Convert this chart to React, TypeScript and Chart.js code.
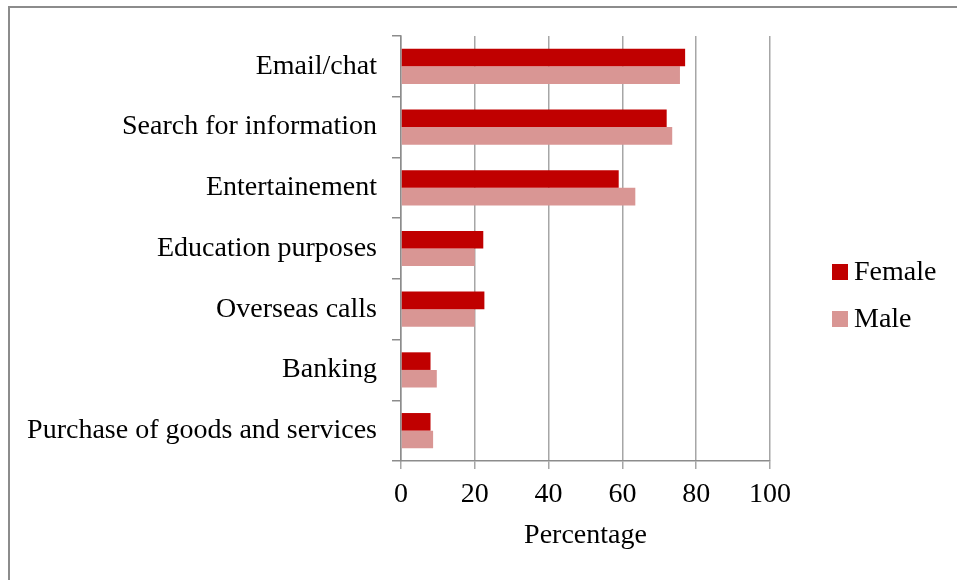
import React, { useEffect, useRef } from "react";
import { Chart, registerables } from "chart.js";

Chart.register(...registerables);

const categories = [
  "Email/chat",
  "Search for information",
  "Entertainement",
  "Education purposes",
  "Overseas calls",
  "Banking",
  "Purchase of goods and services",
];
const femaleValues = [77, 72, 59, 22.3, 22.6, 8, 8];
const maleValues = [75.6, 73.5, 63.5, 20, 20, 9.7, 8.7];
const seriesNames = ["Female", "Male"];
const seriesColors = ["#C00000", "#D99694"];
const xTicks = [0, 20, 40, 60, 80, 100];

const FONT = "'Liberation Serif', 'Times New Roman', serif";

const legendPlugin = {
  id: "customLegend",
  afterDraw(chart: any) {
    const ctx = chart.ctx;
    ctx.save();
    ctx.font = `28px ${FONT}`;
    ctx.textBaseline = "middle";
    ctx.textAlign = "left";
    chart.data.datasets.forEach((ds: any, i: number) => {
      const cy = 272 + i * 47;
      ctx.fillStyle = ds.backgroundColor;
      ctx.fillRect(832, cy - 8, 16, 16);
      ctx.fillStyle = "#000";
      ctx.fillText(ds.label, 854, cy + 1);
    });
    ctx.restore();
  },
};

export default function App() {
  const ref = useRef<HTMLCanvasElement | null>(null);
  useEffect(() => {
    if (!ref.current) return;
    const chart = new Chart(ref.current, {
      type: "bar",
      data: {
        labels: categories,
        datasets: [
          {
            label: seriesNames[0],
            data: femaleValues,
            backgroundColor: seriesColors[0],
            categoryPercentage: 0.58,
            barPercentage: 1.0,
          },
          {
            label: seriesNames[1],
            data: maleValues,
            backgroundColor: seriesColors[1],
            categoryPercentage: 0.58,
            barPercentage: 1.0,
          },
        ],
      },
      options: {
        indexAxis: "y",
        animation: false,
        responsive: false,
        maintainAspectRatio: false,
        layout: { padding: { left: 8, right: 187, top: 36, bottom: 24 } },
        plugins: {
          legend: { display: false },
          tooltip: { enabled: false },
        },
        scales: {
          x: {
            min: 0,
            max: 100,
            afterBuildTicks: (scale: any) => {
              scale.ticks = xTicks.map((v) => ({ value: v }));
            },
            afterFit: (scale: any) => {
              scale.height = 95;
            },
            ticks: {
              color: "#000",
              font: { family: FONT, size: 28 },
              padding: 9,
              maxRotation: 0,
            },
            grid: {
              color: "#A6A6A6",
              lineWidth: 1.5,
              tickLength: 8,
              drawTicks: true,
            },
            border: { color: "#8C8C8C", width: 1.5 },
            title: {
              display: true,
              text: "Percentage",
              color: "#000",
              font: { family: FONT, size: 28 },
              padding: { top: 4, bottom: 4 },
            },
          },
          y: {
            afterFit: (scale: any) => {
              scale.width = 393;
            },
            ticks: {
              color: "#000",
              font: { family: FONT, size: 28 },
              padding: 15,
            },
            grid: {
              drawOnChartArea: false,
              color: "#8C8C8C",
              lineWidth: 1.5,
              tickLength: 9,
              offset: true,
            },
            border: { color: "#8C8C8C", width: 1.5 },
          },
        },
      },
      plugins: [legendPlugin],
    });
    return () => chart.destroy();
  }, []);

  return (
    <div
      style={{
        position: "fixed",
        left: 0,
        top: 0,
        width: 957,
        height: 580,
        overflow: "hidden",
        background: "#fff",
      }}
    >
      <div
        style={{
          position: "absolute",
          left: 8,
          top: 6,
          width: 1000,
          height: 700,
          border: "2px solid #8C8C8C",
        }}
      />
      <canvas
        ref={ref}
        width={957}
        height={580}
        style={{ position: "absolute", left: 0, top: 0, width: 957, height: 580 }}
      />
    </div>
  );
}
